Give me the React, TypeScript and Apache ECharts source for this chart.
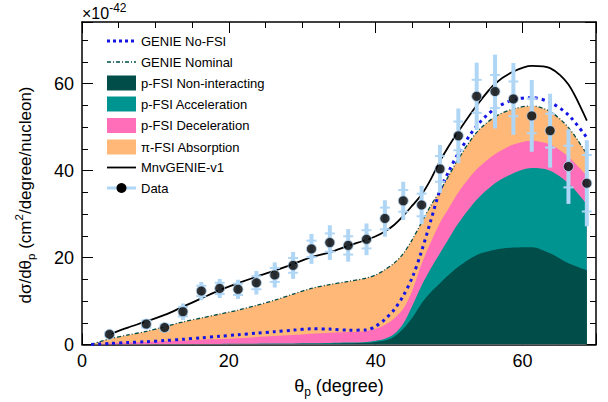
import React, { useEffect, useRef } from 'react';
import * as echarts from 'echarts';

// ---- data ----
const thetaModel = [1.25, 3.75, 6.25, 8.75, 11.25, 13.75, 16.25, 18.75, 21.25, 23.75, 26.25, 28.75, 31.25, 33.75, 36.25, 38.75, 40, 41.25, 42.5, 43.75, 45, 46.25, 47.5, 48.75, 50, 51.25, 53.75, 56.25, 58.75, 61.25, 63.75, 66.25, 68.75];
const nonInteracting = [0, 0, 0, 0.02, 0.03, 0.04, 0.05, 0.06, 0.07, 0.09, 0.11, 0.13, 0.16, 0.2, 0.27, 0.4, 0.6, 0.9, 1.8, 3.6, 6.2, 9.5, 12.0, 14.1, 16.1, 17.9, 20.6, 21.8, 22.3, 22.4, 21.0, 18.7, 17.1];
const acceleration = [0, 0.02, 0.03, 0.03, 0.04, 0.05, 0.06, 0.07, 0.08, 0.09, 0.1, 0.12, 0.14, 0.16, 0.18, 0.2, 0.25, 0.4, 0.6, 1.2, 2.8, 4.1, 5.5, 6.9, 8.4, 10.0, 12.7, 15.3, 17.1, 18.2, 19.0, 18.4, 15.2];
const deceleration = [0, 0.28, 0.42, 0.55, 0.68, 0.81, 0.99, 1.12, 1.3, 1.52, 1.74, 1.95, 2.2, 2.34, 2.4, 2.5, 2.75, 3.2, 3.6, 3.4, 3.5, 4.9, 6.0, 7.0, 7.0, 7.1, 7.0, 6.7, 6.6, 6.3, 6.0, 6.1, 6.5];
const absorption = [0, 1.0, 1.75, 2.4, 3.35, 4.3, 5.0, 5.75, 6.45, 7.3, 8.25, 9.4, 10.4, 11.1, 11.65, 12.2, 12.4, 12.7, 12.7, 12.7, 11.7, 9.6, 8.5, 7.3, 7.5, 7.7, 8.5, 8.6, 8.2, 8.0, 7.6, 6.7, 5.0];
const genieNoFSI = [0, 0.25, 0.45, 0.65, 0.9, 1.2, 1.55, 1.9, 2.25, 2.6, 2.95, 3.3, 3.6, 3.55, 3.3, 3.35, 4.2, 5.8, 8.0, 11.2, 15.5, 21.5, 28.5, 35.5, 40.0, 44.0, 50.3, 54.3, 56.3, 56.8, 55.7, 52.8, 47.6];
const thetaMnv = [3.75, 6.25, 8.75, 11.25, 13.75, 16.25, 18.75, 21.25, 23.75, 26.25, 28.75, 31.25, 33.75, 36.25, 38.75, 40, 41.25, 42.5, 43.75, 45, 46.25, 47.5, 48.75, 50, 51.25, 53.75, 56.25, 58.75, 61.25, 63.75, 66.25, 68.75];
const mnvGenie = [2.4, 3.9, 5.3, 6.8, 8.7, 10.6, 12.5, 14.1, 15.6, 17.0, 18.5, 20.1, 21.2, 22.7, 24.1, 24.9, 26.0, 27.5, 29.6, 32.0, 34.5, 38.0, 42.2, 45.8, 49.0, 55.0, 60.0, 62.8, 64.1, 63.6, 59.8, 51.5];
const dataTheta = [3.75, 8.75, 11.25, 13.75, 16.25, 18.75, 21.25, 23.75, 26.25, 28.75, 31.25, 33.75, 36.25, 38.75, 41.25, 43.75, 46.25, 48.75, 51.25, 53.75, 56.25, 58.75, 61.25, 63.75, 66.25, 68.75];
const dataValue = [2.35, 4.7, 3.9, 7.55, 12.3, 12.9, 12.7, 14.2, 16.0, 18.2, 22.0, 23.45, 22.8, 24.2, 29.0, 33.05, 32.1, 40.4, 48.0, 57.1, 58.2, 56.5, 52.6, 49.2, 40.95, 37.1];
const dataTotErr = [0.7, 1.2, 1.0, 1.9, 2.1, 2.2, 2.2, 2.7, 2.9, 3.1, 3.45, 4.0, 3.75, 3.65, 4.2, 4.4, 4.4, 5.5, 6.3, 7.75, 8.5, 8.25, 8.25, 8.5, 8.6, 9.9];
const dataStatErr = [0.5, 0.8, 0.7, 1.1, 1.2, 1.3, 1.3, 1.5, 1.6, 1.7, 1.9, 2.1, 2.1, 2.1, 2.5, 2.5, 2.6, 2.95, 3.3, 3.8, 3.8, 4.0, 4.0, 3.9, 4.8, 6.5];
const xTickLabels = [0, 20, 40, 60];
const yTickLabels = [0, 20, 40, 60];
const legendLabels = ['GENIE No-FSI', 'GENIE Nominal', 'p-FSI Non-interacting', 'p-FSI Acceleration', 'p-FSI Deceleration', 'π-FSI Absorption', 'MnvGENIE-v1', 'Data'];

// ---- style ----
const FONT = '"Liberation Sans", Arial, Helvetica, sans-serif';
const C_DARK = '#004d49';
const C_TEAL = '#009490';
const C_PINK = '#ff6eb9';
const C_ORANGE = '#ffb877';
const C_BLUE = '#1414e6';
const C_ERR = '#b0d6f6';
const X_MAX = 70;
const Y_MAX = 74.2;
const GRID = { left: 82, top: 22, width: 514, height: 322.5 };

function axisX(gridIndex: number, position: string, interval: number, len: number, labels: boolean, line: boolean) {
  return {
    type: 'value', gridIndex, position, min: 0, max: X_MAX, interval,
    axisLine: { show: line, onZero: false, lineStyle: { color: '#000', width: 1.5 } },
    axisTick: { show: true, inside: true, length: len, lineStyle: { color: '#000', width: 1 } },
    axisLabel: {
      show: labels, margin: 7, fontSize: 18, fontFamily: FONT, color: '#000',
      formatter: (v: number) => (xTickLabels.includes(v) ? String(v) : ''),
    },
    splitLine: { show: false },
  };
}
function axisY(gridIndex: number, position: string, interval: number, len: number, labels: boolean, line: boolean) {
  return {
    type: 'value', gridIndex, position, min: 0, max: Y_MAX, interval,
    axisLine: { show: line, onZero: false, lineStyle: { color: '#000', width: 1.5 } },
    axisTick: { show: true, inside: true, length: len, lineStyle: { color: '#000', width: 1 } },
    axisLabel: {
      show: labels, margin: 8, fontSize: 18, fontFamily: FONT, color: '#000',
      formatter: (v: number) => (yTickLabels.includes(v) ? String(v) : ''),
    },
    splitLine: { show: false },
  };
}

export default function App() {
  const ref = useRef<HTMLDivElement>(null);
  useEffect(() => {
    const chart = echarts.init(ref.current!, null, { renderer: 'svg' });
    const pairs = (xs: number[], ys: number[]) => xs.map((x, i) => [x, ys[i]]);
    // cumulative tops of the stacked FSI components
    const topDark = nonInteracting.slice();
    const topTeal = topDark.map((v, i) => v + acceleration[i]);
    const topPink = topTeal.map((v, i) => v + deceleration[i]);
    const nominal = topPink.map((v, i) => v + absorption[i]);
    const areaSeries = (name: string, arr: number[], color: string, z: number) => ({
      type: 'line', name, data: pairs(thetaModel, arr), smooth: 0.3, z,
      symbol: 'none', lineStyle: { width: 0 }, areaStyle: { color, opacity: 1, origin: 'start' }, silent: true,
    });

    const rowY = [41, 62, 83, 104, 125.5, 147, 167.5, 188];
    const LX0 = 107, LX1 = 136, LT = 141;
    const legendSymbols: any[] = [
      { type: 'line', shape: { x1: LX0, y1: rowY[0], x2: LX1, y2: rowY[0] }, style: { stroke: C_BLUE, lineWidth: 3, lineDash: [3, 3] } },
      { type: 'line', shape: { x1: LX0, y1: rowY[1], x2: LX1, y2: rowY[1] }, style: { stroke: C_DARK, lineWidth: 1.3, lineDash: [4, 2, 1, 2] } },
      { type: 'rect', shape: { x: LX0, y: rowY[2] - 7.5, width: LX1 - LX0, height: 15 }, style: { fill: C_DARK } },
      { type: 'rect', shape: { x: LX0, y: rowY[3] - 7.5, width: LX1 - LX0, height: 15 }, style: { fill: C_TEAL } },
      { type: 'rect', shape: { x: LX0, y: rowY[4] - 7.5, width: LX1 - LX0, height: 15 }, style: { fill: C_PINK } },
      { type: 'rect', shape: { x: LX0, y: rowY[5] - 7.5, width: LX1 - LX0, height: 15 }, style: { fill: C_ORANGE } },
      { type: 'line', shape: { x1: LX0, y1: rowY[6], x2: LX1, y2: rowY[6] }, style: { stroke: '#000', lineWidth: 1.8 } },
      { type: 'line', shape: { x1: LX0, y1: rowY[7], x2: LX1, y2: rowY[7] }, style: { stroke: C_ERR, lineWidth: 3 } },
      { type: 'circle', shape: { cx: (LX0 + LX1) / 2, cy: rowY[7], r: 5 }, style: { fill: '#000' } },
    ].map((e) => ({ ...e, z: 100 }));
    const legendTexts = legendLabels.map((t, i) => ({
      type: 'text', x: LT, y: rowY[i], z: 100,
      style: { text: t, fontSize: 13, fontFamily: FONT, fill: '#000', verticalAlign: 'middle', align: 'left' },
    }));

    const richMain = { fontSize: 17, fontFamily: FONT, fill: '#000', lineHeight: 24 };
    const richSub = { fontSize: 11.5, fontFamily: FONT, fill: '#000', lineHeight: 14, verticalAlign: 'bottom' };
    const richSup = { fontSize: 11.5, fontFamily: FONT, fill: '#000', lineHeight: 14, verticalAlign: 'top' };
    const richMainX = { fontSize: 18, fontFamily: FONT, fill: '#000', lineHeight: 24 };
    const richSubX = { fontSize: 12, fontFamily: FONT, fill: '#000', lineHeight: 14, verticalAlign: 'bottom' };

    const option: any = {
      animation: false,
      backgroundColor: '#fff',
      grid: [
        { ...GRID, containLabel: false },
        { ...GRID, containLabel: false },
      ],
      xAxis: [
        axisX(0, 'bottom', 20, 11, true, true),
        axisX(0, 'top', 20, 11, false, true),
        axisX(1, 'bottom', 5, 6, false, false),
        axisX(1, 'top', 5, 6, false, false),
      ],
      yAxis: [
        axisY(0, 'left', 20, 11, true, true),
        axisY(0, 'right', 20, 11, false, true),
        axisY(1, 'left', 5, 6, false, false),
        axisY(1, 'right', 5, 6, false, false),
      ],
      series: [
        areaSeries('π-FSI Absorption', nominal, C_ORANGE, 1),
        areaSeries('p-FSI Deceleration', topPink, C_PINK, 1),
        areaSeries('p-FSI Acceleration', topTeal, C_TEAL, 1),
        areaSeries('p-FSI Non-interacting', topDark, C_DARK, 1),
        {
          type: 'line', name: 'GENIE Nominal', data: pairs(thetaModel, nominal), smooth: 0.3, symbol: 'none', z: 3,
          lineStyle: { color: C_DARK, width: 1.3, type: [4, 2, 1, 2] },
        },
        {
          type: 'line', name: 'GENIE No-FSI', data: pairs(thetaModel, genieNoFSI), smooth: 0.3, symbol: 'none', z: 4,
          lineStyle: { color: C_BLUE, width: 3, type: [3, 4] },
        },
        {
          type: 'line', name: 'MnvGENIE-v1', data: pairs(thetaMnv, mnvGenie), smooth: 0.3, symbol: 'none', z: 5,
          lineStyle: { color: '#000', width: 1.8 },
        },
        {
          type: 'custom', name: 'Data errors', z: 6,
          data: dataTheta.map((x, i) => [x, dataValue[i], dataTotErr[i], dataStatErr[i]]),
          renderItem: (params: any, api: any) => {
            const x = api.value(0), y = api.value(1), e = api.value(2), s = api.value(3);
            const top = api.coord([x, y + e]);
            const bot = api.coord([x, y - e]);
            const st = api.coord([x, y + s]);
            const sb = api.coord([x, y - s]);
            return {
              type: 'group',
              children: [
                { type: 'rect', shape: { x: top[0] - 2, y: top[1], width: 4, height: bot[1] - top[1] }, style: { fill: C_ERR } },
                { type: 'rect', shape: { x: st[0] - 5, y: st[1] - 1, width: 10, height: 2 }, style: { fill: C_ERR } },
                { type: 'rect', shape: { x: sb[0] - 5, y: sb[1] - 1, width: 10, height: 2 }, style: { fill: C_ERR } },
              ],
            };
          },
        },
        {
          type: 'scatter', name: 'Data', data: pairs(dataTheta, dataValue), z: 7,
          symbol: 'circle', symbolSize: 10,
          itemStyle: { color: '#000', borderColor: C_ERR, borderWidth: 1 },
        },
      ],
      graphic: [
        ...legendSymbols,
        ...legendTexts,
        {
          type: 'text', x: 25, y: 195, rotation: Math.PI / 2, z: 100,
          style: {
            text: '{a|dσ/dθ}{s|p}{a| (cm}{u|2}{a|/degree/nucleon)}',
            rich: { a: richMain, s: richSub, u: richSup },
            align: 'center', verticalAlign: 'middle',
          },
        },
        {
          type: 'text', x: 339, y: 386, z: 100,
          style: {
            text: '{a|θ}{s|p}{a| (degree)}',
            rich: { a: richMainX, s: richSubX },
            align: 'center', verticalAlign: 'middle',
          },
        },
        {
          type: 'text', x: 82, y: 13, z: 100,
          style: {
            text: '{a|×10}{u|-42}',
            rich: {
              a: { fontSize: 16, fontFamily: FONT, fill: '#000', lineHeight: 22 },
              u: { fontSize: 12, fontFamily: FONT, fill: '#000', lineHeight: 12, verticalAlign: 'top' },
            },
            align: 'left', verticalAlign: 'middle',
          },
        },
      ],
    };
    chart.setOption(option);
    return () => chart.dispose();
  }, []);
  return <div ref={ref} style={{ position: 'fixed', left: 0, top: 0, width: 608, height: 402 }} />;
}
